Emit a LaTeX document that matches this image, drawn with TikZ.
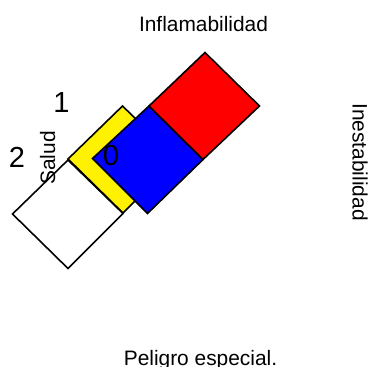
\documentclass[tikz,border=0pt]{standalone}
\usepackage{fontspec}
\setmainfont{Liberation Sans}
\begin{document}
\begin{tikzpicture}[x=1pt,y=-1pt,
  panel/.style={draw=black,line width=1.6pt,line join=miter},
  lbl/.style={inner sep=0pt,anchor=base,font=\fontsize{20.9}{25}\selectfont},
  num/.style={inner sep=0pt,anchor=base,font=\fontsize{29}{34}\selectfont}]
\useasboundingbox (0,0) rectangle (370,367);
% white
\draw[panel,fill=white] (68,160) -- (123,213.5) -- (68,268.5) -- (12.5,214) -- cycle;
% yellow
\draw[panel,fill=yellow] (122.5,106) -- (177,159) -- (123,213) -- (68,159) -- cycle;
% blue
\draw[panel,fill=blue] (149,106) -- (203,159.5) -- (147.5,213.5) -- (92.5,158.5) -- cycle;
% red
\draw[panel,fill=red] (205,52.5) -- (259.5,106) -- (203,159.5) -- (149,106) -- cycle;
% labels
\node[lbl] (infl) at (203.5,31.5) {Inflamabilidad};
\node[lbl,rotate=-90] (ines) at (352.7,162) {Inestabilidad};
\node[lbl] (esp) at (200.5,365.5) {Peligro especial.};
\node[lbl,rotate=90] (sal) at (55,158) {Salud};
\node[num] (n1) at (61.5,112) {1};
\node[num] (n2) at (17,167) {2};
\node[num] (n0) at (111,165.5) {0};
\end{tikzpicture}
\end{document}
